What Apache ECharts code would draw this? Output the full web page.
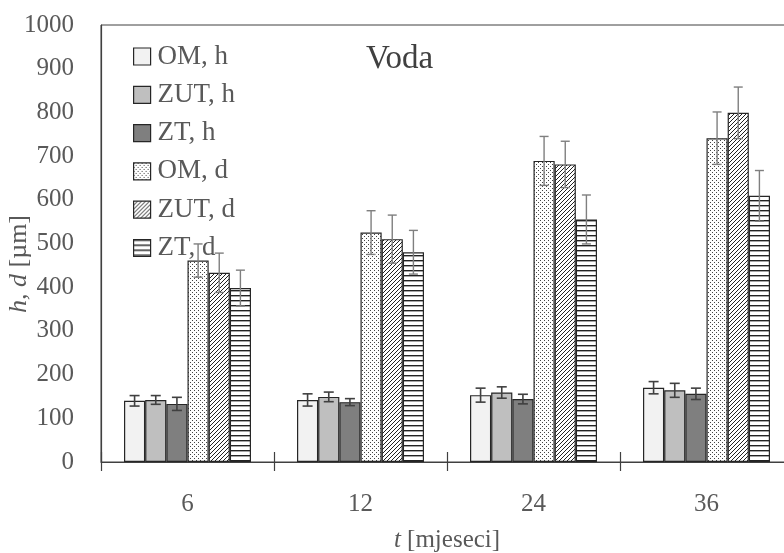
<!DOCTYPE html>
<html>
<head>
<meta charset="utf-8">
<script src="https://cdn.jsdelivr.net/npm/echarts@6/dist/echarts.min.js"></script>
<style>html,body{margin:0;padding:0;background:#fff}#c{width:784px;height:553px}</style>
</head>
<body>
<div id="c"></div>
<script>
const categories = ['6', '12', '24', '36'];
const seriesNames = ['OM, h', 'ZUT, h', 'ZT, h', 'OM, d', 'ZUT, d', 'ZT, d'];
const omH = [140, 142, 153, 170];
const omHErr = [12, 14, 16, 14];
const zutH = [142, 149, 159, 164];
const zutHErr = [10, 11, 13, 16];
const ztH = [133, 137, 144, 156];
const ztHErr = [15, 8, 11, 13];
const omD = [461, 525, 689, 741];
const omDErr = [38, 50, 56, 60];
const zutD = [433, 510, 681, 799];
const zutDErr = [45, 55, 53, 59];
const ztD = [398, 480, 555, 609];
const ztDErr = [41, 50, 56, 58];
const yTicks = [0, 100, 200, 300, 400, 500, 600, 700, 800, 900, 1000];

const values = [omH, zutH, ztH, omD, zutD, ztD];
const errors = [omHErr, zutHErr, ztHErr, omDErr, zutDErr, ztDErr];

const FONT = 'Liberation Serif';
const GAP = 0.266;

function makePattern(kind) {
  const c = document.createElement('canvas');
  const ctx = c.getContext('2d');
  if (kind === 'dots') {
    c.width = 4; c.height = 4;
    ctx.fillStyle = '#fff'; ctx.fillRect(0, 0, 4, 4);
    ctx.fillStyle = '#444';
    ctx.fillRect(0, 0, 1, 1);
    ctx.fillRect(2, 2, 1, 1);
  } else if (kind === 'diag') {
    c.width = 4; c.height = 4;
    ctx.fillStyle = '#fff'; ctx.fillRect(0, 0, 4, 4);
    ctx.strokeStyle = '#222'; ctx.lineWidth = 1;
    ctx.beginPath();
    ctx.moveTo(-1, 5); ctx.lineTo(5, -1);
    ctx.moveTo(-1, 1); ctx.lineTo(1, -1);
    ctx.moveTo(3, 5); ctx.lineTo(5, 3);
    ctx.stroke();
  } else {
    c.width = 4; c.height = 5;
    ctx.fillStyle = '#fff'; ctx.fillRect(0, 0, 4, 5);
    ctx.fillStyle = '#222';
    ctx.fillRect(0, 0, 4, 1.4);
  }
  return { image: c, repeat: 'repeat' };
}

const fills = ['#f2f2f2', '#bfbfbf', '#7f7f7f', makePattern('dots'), makePattern('diag'), makePattern('hlines')];

const barSeries = seriesNames.map((name, i) => ({
  name: name,
  type: 'bar',
  data: values[i],
  barGap: '0%',
  barCategoryGap: (GAP * 100) + '%',
  itemStyle: { color: fills[i], borderColor: '#262626', borderWidth: 1.2 },
  emphasis: { disabled: true },
  z: 2
}));

const errData = [];
for (let s = 0; s < values.length; s++) {
  for (let k = 0; k < categories.length; k++) {
    errData.push([k, s, values[s][k], errors[s][k]]);
  }
}

const errSeries = {
  type: 'custom',
  name: 'err',
  data: errData,
  encode: { x: 0, y: 2 },
  z: 5,
  silent: true,
  renderItem: function (params, api) {
    const cat = api.value(0), s = api.value(1), v = api.value(2), e = api.value(3);
    const catW = api.size([1, 0])[0];
    const bw = catW * (1 - GAP) / 6;
    const c = api.coord([cat, v]);
    const x = c[0] + (s - 2.5) * bw;
    const yt = api.coord([cat, v + e])[1];
    const yb = api.coord([cat, v - e])[1];
    const hw = s < 3 ? 5 : 4.5;
    const col = s < 3 ? '#404040' : '#7f7f7f';
    const st = { stroke: col, lineWidth: s < 3 ? 1.6 : 1.4 };
    return {
      type: 'group',
      children: [
        { type: 'line', shape: { x1: x, y1: yt, x2: x, y2: yb }, style: st },
        { type: 'line', shape: { x1: x - hw, y1: yt, x2: x + hw, y2: yt }, style: st },
        { type: 'line', shape: { x1: x - hw, y1: yb, x2: x + hw, y2: yb }, style: st }
      ]
    };
  }
};

const chart = echarts.init(document.getElementById('c'), null, { renderer: 'canvas' });
chart.setOption({
  animation: false,
  backgroundColor: '#fff',
  title: {
    text: 'Voda',
    left: 361, top: 38,
    textStyle: { fontFamily: FONT, fontSize: 33, fontWeight: 'normal', color: '#404040' }
  },
  legend: {
    data: seriesNames,
    orient: 'vertical',
    left: 128, top: 38,
    itemWidth: 17, itemHeight: 17,
    itemGap: 11.3,
    icon: 'rect',
    itemStyle: { borderColor: '#262626', borderWidth: 1.2 },
    textStyle: { fontFamily: FONT, fontSize: 27, color: '#595959', lineHeight: 27, padding: [0, 0, 0, 2] }
  },
  graphic: [{
    type: 'text',
    x: 19, y: 264,
    rotation: Math.PI / 2,
    silent: true,
    style: {
      text: '{i|h, d} [µm]',
      align: 'center', verticalAlign: 'middle',
      fontFamily: FONT, fontSize: 26, fill: '#595959',
      rich: { i: { fontFamily: FONT, fontSize: 26, fontStyle: 'italic', fill: '#595959' } }
    }
  }],
  grid: {
    left: 101, top: 25, bottom: 91, width: 692,
    outerBoundsMode: 'none',
    show: true, borderColor: '#404040', borderWidth: 1, backgroundColor: 'transparent',
    containLabel: false
  },
  xAxis: [{
    type: 'category',
    data: categories,
    position: 'bottom',
    offset: 0,
    name: '{i|t} [mjeseci]',
    nameLocation: 'middle',
    nameGap: 66,
    nameTextStyle: {
      fontFamily: FONT, fontSize: 25, color: '#595959',
      rich: { i: { fontFamily: FONT, fontSize: 25, fontStyle: 'italic', color: '#595959' } }
    },
    axisLine: { lineStyle: { color: '#404040', width: 1.2 } },
    axisTick: { show: true, length: 9, inside: false, lineStyle: { color: '#404040', width: 1.2 } },
    axisLabel: { fontFamily: FONT, fontSize: 25, color: '#595959', margin: 30 }
  }, {
    type: 'category',
    data: categories,
    position: 'bottom',
    offset: 0,
    axisLine: { show: false },
    axisTick: { show: true, length: 10, inside: true, lineStyle: { color: '#404040', width: 1.2 } },
    axisLabel: { show: false }
  }],
  yAxis: {
    type: 'value',
    min: 0, max: 1000, interval: 100,
    axisLine: { show: true, lineStyle: { color: '#404040', width: 1.2 } },
    axisTick: { show: false },
    splitLine: { show: false },
    axisLabel: {
      fontFamily: FONT, fontSize: 25, color: '#595959', margin: 27,
      formatter: function (v) { return yTicks.indexOf(v) >= 0 ? String(v) : ''; }
    }
  },
  series: barSeries.concat([errSeries])
});
</script>
</body>
</html>
